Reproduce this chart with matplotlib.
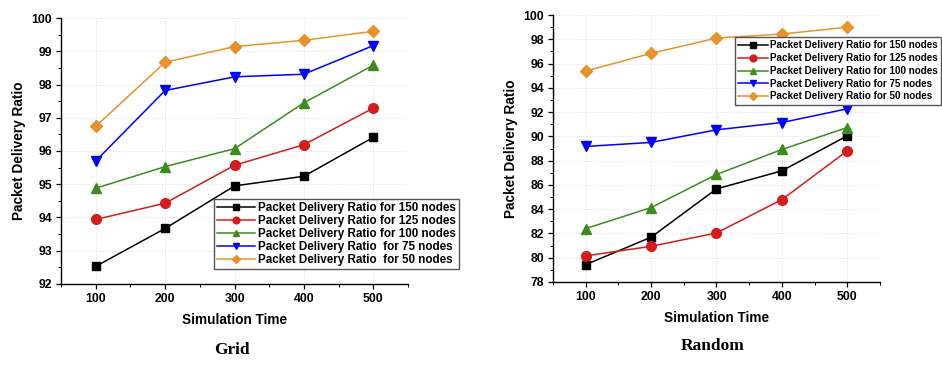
import numpy as np
import matplotlib
matplotlib.use("Agg")
import matplotlib.pyplot as plt
from matplotlib.ticker import MultipleLocator

# simulation times on the x axis
sim_time = [100, 200, 300, 400, 500]

# Grid topology
grid_150 = [92.53, 93.67, 94.95, 95.24, 96.41]
grid_125 = [93.94, 94.43, 95.57, 96.19, 97.29]
grid_100 = [94.88, 95.53, 96.07, 97.45, 98.58]
grid_75 = [95.70, 97.82, 98.23, 98.31, 99.17]
grid_50 = [96.74, 98.67, 99.14, 99.33, 99.60]

# Random topology
rand_150 = [79.43, 81.69, 85.67, 87.16, 90.05]
rand_125 = [80.15, 80.94, 82.04, 84.79, 88.81]
rand_100 = [82.40, 84.13, 86.86, 88.92, 90.73]
rand_75 = [89.17, 89.50, 90.54, 91.14, 92.27]
rand_50 = [95.38, 96.84, 98.10, 98.43, 99.00]

grid_labels = ["Packet Delivery Ratio for 150 nodes",
               "Packet Delivery Ratio for 125 nodes",
               "Packet Delivery Ratio for 100 nodes",
               "Packet Delivery Ratio  for 75 nodes",
               "Packet Delivery Ratio  for 50 nodes"]
rand_labels = ["Packet Delivery Ratio for 150 nodes",
               "Packet Delivery Ratio for 125 nodes",
               "Packet Delivery Ratio for 100 nodes",
               "Packet Delivery Ratio for 75 nodes",
               "Packet Delivery Ratio for 50 nodes"]

colors = ["#000000", "#d41c1c", "#3c8c1e", "#0000ff", "#e8922a"]
markers = ["s", "o", "^", "v", "D"]
msizes = [6.3, 7, 7, 7, 6.3]

plt.rcParams['font.family'] = ['Liberation Sans', 'DejaVu Sans']
plt.rcParams['font.weight'] = 'bold'

fig = plt.figure(figsize=(9.42, 3.69), dpi=100)
ax1 = fig.add_axes([0.0648, 0.2304, 0.3683, 0.7208])
ax2 = fig.add_axes([0.5870, 0.2358, 0.3472, 0.7235])


def style_axes(ax, ylo, yhi, ystep, yminor):
    ax.set_xlim(50, 550)
    ax.set_ylim(ylo, yhi)
    ax.xaxis.set_major_locator(MultipleLocator(100))
    ax.xaxis.set_minor_locator(MultipleLocator(50))
    ax.yaxis.set_major_locator(MultipleLocator(ystep))
    ax.yaxis.set_minor_locator(MultipleLocator(yminor))
    ax.spines['top'].set_visible(False)
    ax.spines['right'].set_visible(False)
    for s in ['left', 'bottom']:
        ax.spines[s].set_linewidth(1.0)
    ax.tick_params(which='major', direction='out', length=3.5, width=0.9, labelsize=8.8, pad=3)
    ax.tick_params(which='minor', direction='out', length=2, width=0.7)
    for lab in ax.get_xticklabels() + ax.get_yticklabels():
        lab.set_fontweight('bold')
    ax.grid(True, which='major', linestyle=':', color='#dedede', linewidth=0.7)
    ax.set_axisbelow(True)
    ax.set_xlabel("Simulation Time", fontsize=9.8, fontweight='bold', labelpad=6)
    ax.set_ylabel("Packet Delivery Ratio", fontsize=9.8, fontweight='bold', labelpad=4)


grid_series = [grid_150, grid_125, grid_100, grid_75, grid_50]
for vals, c, m, ms, lab in zip(grid_series, colors, markers, msizes, grid_labels):
    ax1.plot(sim_time, vals, color=c, marker=m, markersize=ms, linewidth=1.1, label=lab)
style_axes(ax1, 92, 100, 1, 0.5)
ax1.legend(loc='upper left', bbox_to_anchor=(214 / 942, 1 - 199 / 369),
           bbox_transform=fig.transFigure, prop={'weight': 'bold', 'size': 8.4},
           frameon=True, fancybox=False, edgecolor='#555555', framealpha=1,
           handlelength=3.3, handletextpad=0.25, labelspacing=0.08,
           borderpad=0.25, borderaxespad=0, markerscale=0.7)

rand_series = [rand_150, rand_125, rand_100, rand_75, rand_50]
for vals, c, m, ms, lab in zip(rand_series, colors, markers, msizes, rand_labels):
    ax2.plot(sim_time, vals, color=c, marker=m, markersize=ms, linewidth=1.1, label=lab)
style_axes(ax2, 78, 100, 2, 1)
ax2.legend(loc='upper left', bbox_to_anchor=(735 / 942, 1 - 37 / 369),
           bbox_transform=fig.transFigure, prop={'weight': 'bold', 'size': 7.1},
           frameon=True, fancybox=False, edgecolor='#555555', framealpha=1,
           handlelength=3.0, handletextpad=0.2, labelspacing=0.28,
           borderpad=0.35, borderaxespad=0, markerscale=0.7)

fig.text(232 / 942, 1 - 350 / 369, "Grid", ha='center', va='center',
         family='Liberation Serif', fontweight='bold', fontsize=12.5)
fig.text(713 / 942, 1 - 346 / 369, "Random", ha='center', va='center',
         family='Liberation Serif', fontweight='bold', fontsize=12.5)

fig.savefig("out.png", dpi=100)
